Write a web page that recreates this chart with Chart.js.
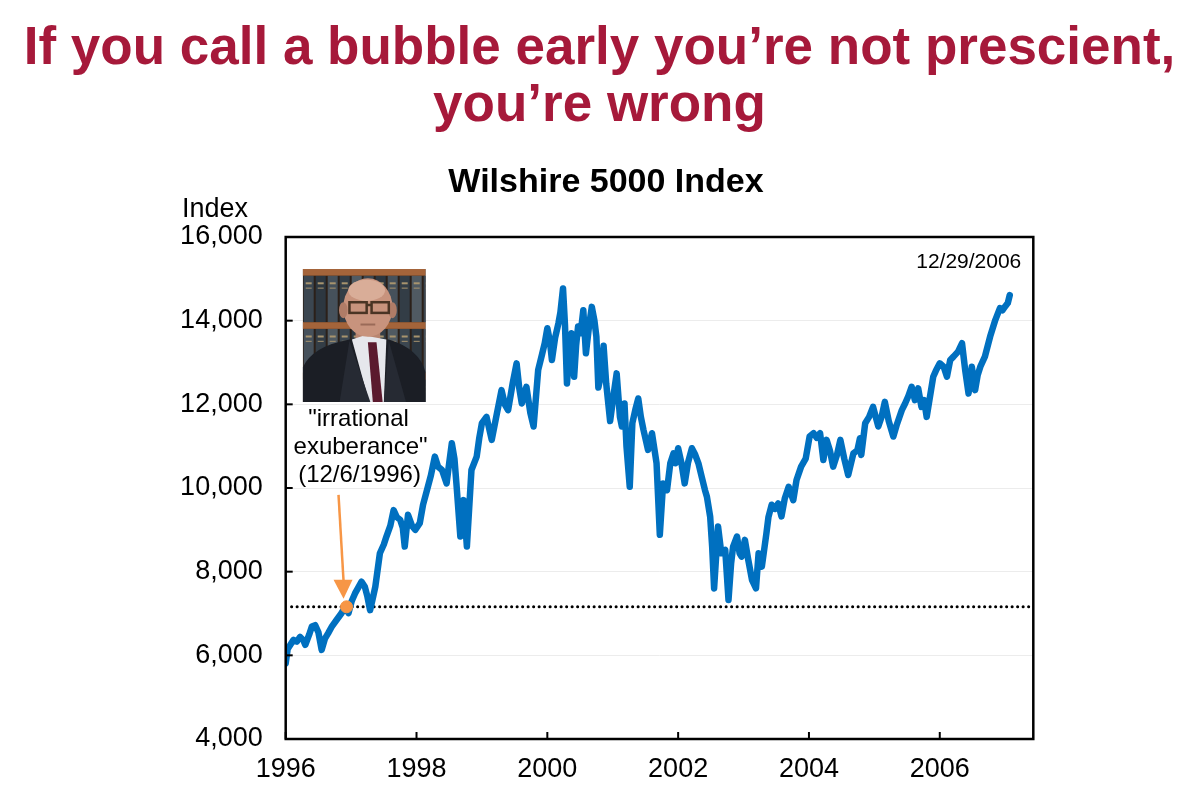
<!DOCTYPE html>
<html>
<head>
<meta charset="utf-8">
<script src="https://cdn.jsdelivr.net/npm/chart.js@4.4.0/dist/chart.umd.min.js"></script>
<style>
  html, body { margin: 0; padding: 0; background: #fff; }
  body { width: 1199px; height: 802px; position: relative; overflow: hidden; }
  #headline {
    position: absolute; left: 0; top: 17px; width: 1199px;
    text-align: center; font-family: "Liberation Sans", Arial, sans-serif;
    font-weight: bold; font-size: 53px; line-height: 57px; color: #a6193a;
  }
  #chart { position: absolute; left: 0; top: 0; }
</style>
</head>
<body>
<div id="headline">If you call a bubble early you’re not prescient,<br>you’re wrong</div>
<canvas id="chart" width="1199" height="802"></canvas>
<script>
// Wilshire 5000 (decimal year, index level)
const years = [
  1996.00, 1996.03, 1996.12, 1996.17, 1996.22, 1996.27, 1996.30, 1996.36, 1996.40, 1996.45,
  1996.50, 1996.55, 1996.60, 1996.65, 1996.71, 1996.78, 1996.85, 1996.91, 1996.96, 1997.01,
  1997.06, 1997.12, 1997.16, 1997.21, 1997.25, 1997.29, 1997.33, 1997.37, 1997.44, 1997.50,
  1997.54, 1997.60, 1997.65, 1997.70, 1997.75, 1997.79, 1997.82, 1997.87, 1997.93, 1997.98,
  1998.05, 1998.10, 1998.16, 1998.22, 1998.28, 1998.33, 1998.39, 1998.46, 1998.50, 1998.54,
  1998.58, 1998.61, 1998.67, 1998.72, 1998.77, 1998.84, 1998.92, 1998.96, 1999.00, 1999.07,
  1999.15, 1999.23, 1999.30, 1999.35, 1999.40, 1999.47, 1999.53, 1999.57, 1999.61, 1999.68,
  1999.74, 1999.79, 1999.86, 1999.92, 1999.96, 2000.00, 2000.04, 2000.07, 2000.12, 2000.17,
  2000.20, 2000.24, 2000.27, 2000.30, 2000.34, 2000.37, 2000.41, 2000.44, 2000.47, 2000.51,
  2000.55, 2000.59, 2000.64, 2000.68, 2000.72, 2000.75, 2000.78, 2000.82, 2000.86, 2000.90,
  2000.96, 2001.02, 2001.06, 2001.11, 2001.14, 2001.18, 2001.21, 2001.26, 2001.30, 2001.35,
  2001.39, 2001.43, 2001.47, 2001.54, 2001.60, 2001.67, 2001.72, 2001.77, 2001.83, 2001.88,
  2001.93, 2001.96, 2002.00, 2002.05, 2002.10, 2002.15, 2002.21, 2002.26, 2002.31, 2002.36,
  2002.41, 2002.44, 2002.49, 2002.52, 2002.55, 2002.61, 2002.66, 2002.72, 2002.77, 2002.81,
  2002.84, 2002.90, 2002.94, 2002.97, 2003.02, 2003.07, 2003.13, 2003.19, 2003.23, 2003.28,
  2003.35, 2003.38, 2003.43, 2003.48, 2003.53, 2003.58, 2003.63, 2003.69, 2003.76, 2003.81,
  2003.88, 2003.95, 2004.01, 2004.07, 2004.12, 2004.17, 2004.22, 2004.27, 2004.32, 2004.37,
  2004.43, 2004.48, 2004.54, 2004.60, 2004.68, 2004.74, 2004.78, 2004.80, 2004.86, 2004.92,
  2004.98, 2005.06, 2005.11, 2005.16, 2005.22, 2005.29, 2005.34, 2005.42, 2005.47, 2005.52,
  2005.57, 2005.62, 2005.67, 2005.72, 2005.76, 2005.80, 2005.90, 2005.94, 2006.00, 2006.06,
  2006.11, 2006.16, 2006.21, 2006.28, 2006.34, 2006.39, 2006.44, 2006.49, 2006.54, 2006.58,
  2006.62, 2006.69, 2006.77, 2006.85, 2006.92, 2006.96, 2007.00, 2007.04, 2007.07
];
const wilshire = [
  5810, 6150, 6370, 6330, 6440, 6360, 6250, 6500, 6690, 6720,
  6550, 6130, 6400, 6530, 6700, 6850, 7000, 7160, 7010, 7300,
  7480, 7650, 7760, 7640, 7400, 7080, 7350, 7640, 8440, 8650,
  8840, 9100, 9470, 9300, 9240, 9050, 8600, 9360, 9100, 9000,
  9160, 9600, 9950, 10300, 10750, 10510, 10430, 10110, 10600, 11070,
  10700, 10110, 8840, 9710, 8600, 10430, 10750, 11200, 11550, 11700,
  11150, 11790, 12340, 12000, 11860, 12500, 12980, 12400, 12020, 12420,
  11800, 11470, 12820, 13200, 13460, 13820, 13500, 13060, 13600, 13940,
  14200, 14770, 13900, 12500, 13300, 13700, 12660, 13400, 13860, 13700,
  14250, 13220, 13900, 14330, 14000, 13620, 12400, 12700, 13400, 12500,
  11600, 12300, 12740, 11700, 11470, 12020, 11000, 10030, 11550, 11900,
  12140, 11700, 11390, 10910, 11310, 10590, 8880, 10110, 9950, 10590,
  10830, 10590, 10950, 10600, 10110, 10600, 10950, 10800, 10590, 10270,
  9950, 9790, 9310, 8600, 7600, 9080, 8440, 8520, 7320, 8200,
  8600, 8840, 8440, 8360, 8760, 8300, 7800, 7600, 8440, 8120,
  8920, 9300, 9600, 9500, 9630, 9320, 9750, 10030, 9710, 10190,
  10510, 10700, 11230, 11310, 11200, 11310, 10670, 11150, 10900, 10510,
  10800, 11150, 10700, 10310, 10830, 10900, 11190, 10790, 11550, 11700,
  11940, 11470, 11700, 12060, 11600, 11230, 11500, 11860, 12020, 12200,
  12420, 12100, 12380, 11940, 12100, 11700, 12660, 12800, 12980, 12900,
  12660, 13060, 13140, 13260, 13460, 12800, 12260, 12900, 12340, 12700,
  12900, 13140, 13620, 14020, 14300, 14250, 14340, 14420, 14610
];

// "irrational exuberance" speech, 12/6/1996, and the reference level drawn from it
const speechDate = 1996.93;
const speechLevel = 7160;
const refLineStart = 1996.09;

const xTicks = [1996, 1998, 2000, 2002, 2004, 2006];
const yTicks = [4000, 6000, 8000, 10000, 12000, 14000, 16000];
const xRange = [1996, 2007.43];
const yRange = [4000, 16000];

const FONT = '"Liberation Sans", Arial, sans-serif';
const BLUE = '#0070c0';
const ORANGE = '#f79646';

function drawPhoto(ctx, x, y, w, h) {
  ctx.save();
  ctx.beginPath();
  ctx.rect(x, y, w, h);
  ctx.clip();
  // bookcase
  ctx.fillStyle = '#2b2019';
  ctx.fillRect(x, y, w, h);
  const rows = [[0.05, 0.40], [0.45, 0.78], [0.83, 1.0]];
  const spines = ['#3b4650', '#2d3740', '#46515b', '#333d46', '#505a62'];
  rows.forEach((r, ri) => {
    for (let i = 0; i * 12 < w; i++) {
      ctx.fillStyle = spines[(i + ri * 2) % spines.length];
      ctx.fillRect(x + i * 12 + 1, y + r[0] * h, 10, (r[1] - r[0]) * h);
      ctx.fillStyle = '#a8946e';
      ctx.fillRect(x + i * 12 + 3, y + (r[0] + 0.05) * h, 6, 2);
      ctx.fillRect(x + i * 12 + 3, y + (r[0] + 0.09) * h, 6, 1);
    }
  });
  ctx.fillStyle = '#a4643a';
  [0.0, 0.40, 0.78].forEach(s => ctx.fillRect(x, y + s * h, w, 0.05 * h));
  // suit
  ctx.fillStyle = '#1b1e25';
  ctx.beginPath();
  ctx.moveTo(x, y + h);
  ctx.lineTo(x, y + 0.74 * h);
  ctx.quadraticCurveTo(x + 0.08 * w, y + 0.58 * h, x + 0.38 * w, y + 0.53 * h);
  ctx.lineTo(x + 0.70 * w, y + 0.53 * h);
  ctx.quadraticCurveTo(x + 0.95 * w, y + 0.60 * h, x + w, y + 0.78 * h);
  ctx.lineTo(x + w, y + h);
  ctx.closePath();
  ctx.fill();
  // neck
  ctx.fillStyle = '#b88570';
  ctx.fillRect(x + 0.43 * w, y + 0.44 * h, 0.20 * w, 0.12 * h);
  // shirt
  ctx.fillStyle = '#e6e7ec';
  ctx.beginPath();
  ctx.moveTo(x + 0.40 * w, y + 0.53 * h);
  ctx.lineTo(x + 0.50 * w, y + 0.50 * h);
  ctx.lineTo(x + 0.68 * w, y + 0.53 * h);
  ctx.lineTo(x + 0.66 * w, y + h);
  ctx.lineTo(x + 0.54 * w, y + h);
  ctx.closePath();
  ctx.fill();
  // lapels
  ctx.fillStyle = '#262a33';
  ctx.beginPath();
  ctx.moveTo(x + 0.38 * w, y + 0.54 * h);
  ctx.lineTo(x + 0.55 * w, y + h);
  ctx.lineTo(x + 0.30 * w, y + h);
  ctx.closePath();
  ctx.fill();
  ctx.beginPath();
  ctx.moveTo(x + 0.70 * w, y + 0.54 * h);
  ctx.lineTo(x + 0.66 * w, y + h);
  ctx.lineTo(x + 0.84 * w, y + h);
  ctx.closePath();
  ctx.fill();
  // tie
  ctx.fillStyle = '#5b1a2e';
  ctx.beginPath();
  ctx.moveTo(x + 0.53 * w, y + 0.55 * h);
  ctx.lineTo(x + 0.60 * w, y + 0.55 * h);
  ctx.lineTo(x + 0.65 * w, y + h);
  ctx.lineTo(x + 0.57 * w, y + h);
  ctx.closePath();
  ctx.fill();
  // head
  ctx.fillStyle = '#c8937d';
  ctx.beginPath();
  ctx.ellipse(x + 0.53 * w, y + 0.29 * h, 0.20 * w, 0.22 * h, 0, 0, Math.PI * 2);
  ctx.fill();
  ctx.fillStyle = '#d9ad98';
  ctx.beginPath();
  ctx.ellipse(x + 0.52 * w, y + 0.16 * h, 0.15 * w, 0.08 * h, 0, 0, Math.PI * 2);
  ctx.fill();
  ctx.fillStyle = '#b07c67';
  ctx.beginPath();
  ctx.ellipse(x + 0.33 * w, y + 0.31 * h, 0.035 * w, 0.06 * h, 0, 0, Math.PI * 2);
  ctx.ellipse(x + 0.73 * w, y + 0.31 * h, 0.035 * w, 0.06 * h, 0, 0, Math.PI * 2);
  ctx.fill();
  ctx.fillStyle = '#9a6a58';
  ctx.fillRect(x + 0.47 * w, y + 0.41 * h, 0.12 * w, 0.015 * h);
  // glasses
  ctx.strokeStyle = '#4a3424';
  ctx.lineWidth = 2.5;
  ctx.strokeRect(x + 0.38 * w, y + 0.25 * h, 0.14 * w, 0.08 * h);
  ctx.strokeRect(x + 0.56 * w, y + 0.25 * h, 0.14 * w, 0.08 * h);
  ctx.beginPath();
  ctx.moveTo(x + 0.52 * w, y + 0.27 * h);
  ctx.lineTo(x + 0.56 * w, y + 0.27 * h);
  ctx.stroke();
  ctx.restore();
}

const decorations = {
  id: 'decorations',
  afterDraw(chart) {
    const { ctx, chartArea: a, scales } = chart;
    const xs = scales.x, ys = scales.y;
    ctx.save();

    // frame
    ctx.strokeStyle = '#000';
    ctx.lineWidth = 2.5;
    ctx.strokeRect(a.left, a.top, a.right - a.left, a.bottom - a.top);

    // inward tick marks
    ctx.lineWidth = 2;
    yTicks.forEach(v => {
      const py = ys.getPixelForValue(v);
      ctx.beginPath(); ctx.moveTo(a.left, py); ctx.lineTo(a.left + 7, py); ctx.stroke();
    });
    xTicks.forEach(v => {
      const px = xs.getPixelForValue(v);
      ctx.beginPath(); ctx.moveTo(px, a.bottom); ctx.lineTo(px, a.bottom - 7); ctx.stroke();
    });

    // titles
    ctx.fillStyle = '#000';
    ctx.textAlign = 'center';
    ctx.textBaseline = 'alphabetic';
    ctx.font = 'bold 34px ' + FONT;
    ctx.fillText('Wilshire 5000 Index', 606, 192);
    ctx.textAlign = 'left';
    ctx.font = '27px ' + FONT;
    ctx.fillText('Index', 182, 217);
    ctx.textAlign = 'right';
    ctx.font = '21px ' + FONT;
    ctx.fillText('12/29/2006', a.right - 12, 268);

    // photo and speech annotation
    const sx = xs.getPixelForValue(speechDate);
    const sy = ys.getPixelForValue(speechLevel);
    drawPhoto(ctx, a.left + 17, a.top + 32, 123, 133);
    ctx.fillStyle = '#000';
    ctx.textAlign = 'center';
    ctx.font = '24px ' + FONT;
    ctx.fillText('"irrational', sx + 12, 426);
    ctx.fillText('exuberance"', sx + 14, 454);
    ctx.fillText('(12/6/1996)', sx + 13, 482);

    // arrow
    ctx.strokeStyle = ORANGE;
    ctx.fillStyle = ORANGE;
    ctx.lineWidth = 2.5;
    ctx.beginPath();
    ctx.moveTo(sx - 8, sy - 112);
    ctx.lineTo(sx - 3, sy - 26);
    ctx.stroke();
    ctx.beginPath();
    ctx.moveTo(sx - 13, sy - 27);
    ctx.lineTo(sx + 6, sy - 27);
    ctx.lineTo(sx - 3, sy - 8);
    ctx.closePath();
    ctx.fill();
    ctx.restore();
  }
};

const seriesPoints = years.map((yr, i) => ({ x: yr, y: wilshire[i] }));

new Chart(document.getElementById('chart'), {
  type: 'line',
  data: {
    datasets: [
      {
        label: 'irrational exuberance level',
        data: [{ x: refLineStart, y: speechLevel }, { x: xRange[1], y: speechLevel }],
        borderColor: '#000',
        borderWidth: 3,
        borderDash: [0.1, 5.4],
        borderCapStyle: 'round',
        pointRadius: 0,
        order: 3
      },
      {
        label: 'Wilshire 5000',
        data: seriesPoints,
        borderColor: BLUE,
        borderWidth: 6.5,
        borderJoinStyle: 'round',
        borderCapStyle: 'round',
        pointRadius: 0,
        tension: 0,
        order: 2
      },
      {
        label: '12/6/1996',
        data: [{ x: speechDate, y: speechLevel }],
        showLine: false,
        pointRadius: 6,
        pointBackgroundColor: ORANGE,
        pointBorderColor: ORANGE,
        order: 1
      }
    ]
  },
  options: {
    responsive: false,
    animation: false,
    layout: { padding: { left: 0, top: 237, right: 165.7, bottom: 0 } },
    plugins: { legend: { display: false }, tooltip: { enabled: false } },
    scales: {
      x: {
        type: 'linear',
        min: xRange[0],
        max: xRange[1],
        afterFit: s => { s.height = 63; },
        afterBuildTicks: s => { s.ticks = xTicks.map(v => ({ value: v })); },
        grid: { display: false, drawTicks: false },
        border: { display: false },
        ticks: {
          padding: 14,
          color: '#000',
          font: { family: FONT, size: 27 },
          maxRotation: 0,
          callback: v => String(v)
        }
      },
      y: {
        min: yRange[0],
        max: yRange[1],
        afterFit: s => { s.width = 285.7; },
        afterBuildTicks: s => { s.ticks = yTicks.map(v => ({ value: v })); },
        grid: { color: '#ececec', lineWidth: 1, drawTicks: false },
        border: { display: false },
        ticks: {
          padding: 23,
          color: '#000',
          font: { family: FONT, size: 27 },
          callback: v => v.toLocaleString('en-US')
        }
      }
    }
  },
  plugins: [decorations]
});
</script>
</body>
</html>
